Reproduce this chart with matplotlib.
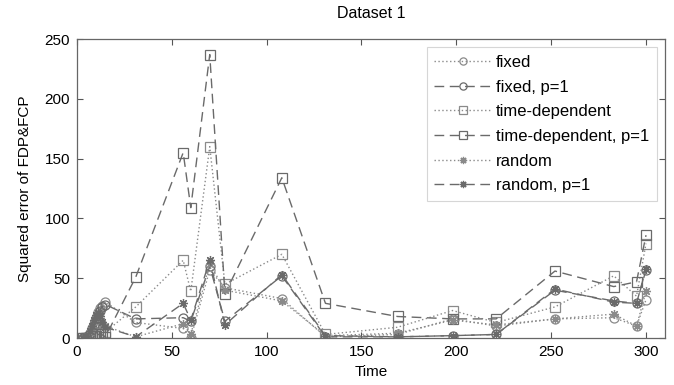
import numpy as np
import matplotlib
matplotlib.use("Agg")
import matplotlib.pyplot as plt

plt.rcParams['font.family'] = ['Liberation Sans', 'DejaVu Sans']

# time points and squared errors
t = [3, 5, 7, 8, 9, 10, 11, 12, 13, 15, 31, 56, 60, 70, 78, 108, 131,
     169, 198, 221, 252, 283, 295, 300]

fixed = [0, 1, 4, 8, 12, 17, 22, 25, 27, 30, 13, 8, 0, 57, 42, 33, 1,
         3, 16, 10, 16, 17, 10, 32]
fixed_p1 = [0, 1, 3, 7, 11, 15, 19, 23, 26, 28, 16, 17, 14, 60, 14, 52, 1,
            1, 2, 3, 40, 31, 29, 57]
time_dep = [0, 0, 1, 1, 2, 2, 3, 3, 4, 5, 26, 65, 39, 160, 45, 70, 3,
            9, 23, 13, 26, 52, 35, 79]
time_dep_p1 = [0, 0, 1, 1, 2, 2, 3, 3, 3, 1, 51, 155, 109, 237, 37, 134, 29,
               18, 16, 16, 56, 43, 47, 86]
rand = [0, 2, 5, 9, 14, 18, 20, 17, 12, 10, 1, 12, 3, 62, 40, 31, 2,
        4, 15, 11, 16, 20, 10, 39]
rand_p1 = [0, 2, 6, 10, 15, 19, 21, 18, 13, 9, 1, 29, 15, 65, 11, 53, 2,
           1, 2, 3, 41, 30, 29, 58]

labels = ['fixed', 'fixed, p=1', 'time-dependent', 'time-dependent, p=1',
          'random', 'random, p=1']

dotted = dict(linestyle=(0, (1, 1.8)), color='#8a8a8a', linewidth=1.0)
dashed = dict(linestyle=(0, (7, 4)), color='#6a6a6a', linewidth=1.0)
asterisk = (8, 2, 0)

fig = plt.figure(figsize=(6.74, 3.85), dpi=100)
ax = fig.add_axes([0.1142, 0.122, 0.8724, 0.7767])

series = [(fixed, 'o', dotted), (fixed_p1, 'o', dashed),
          (time_dep, 's', dotted), (time_dep_p1, 's', dashed),
          (rand, asterisk, dotted), (rand_p1, asterisk, dashed)]

for (vals, mk, st), lab in zip(series, labels):
    ax.plot(t, vals, marker=mk, markersize=6.5,
            mfc='none', mec=st['color'], markeredgewidth=0.9,
            label=lab, **st)

ax.set_xlim(0, 310)
ax.set_ylim(0, 250)
ax.set_xticks(np.arange(0, 301, 50))
ax.set_yticks(np.arange(0, 251, 50))
ax.tick_params(direction='in', top=True, right=True, labelsize=11,
               length=4, color='#555555', width=0.8, pad=5)
for s in ax.spines.values():
    s.set_color('#666666')
    s.set_linewidth(0.9)

ax.set_title('Dataset 1', fontsize=11.5, pad=15)
ax.set_xlabel('Time', fontsize=11, labelpad=4)
ax.set_ylabel('Squared error of FDP&FCP', fontsize=11, labelpad=9)

leg = ax.legend(loc='upper right', fontsize=12, handlelength=3.4,
                frameon=True, fancybox=False, borderaxespad=0.5,
                labelspacing=0.58, handletextpad=0.3, borderpad=0.45,
                markerscale=0.8)
leg.get_frame().set_edgecolor('#cccccc')
leg.get_frame().set_linewidth(0.8)

fig.savefig('out.png', dpi=100)
